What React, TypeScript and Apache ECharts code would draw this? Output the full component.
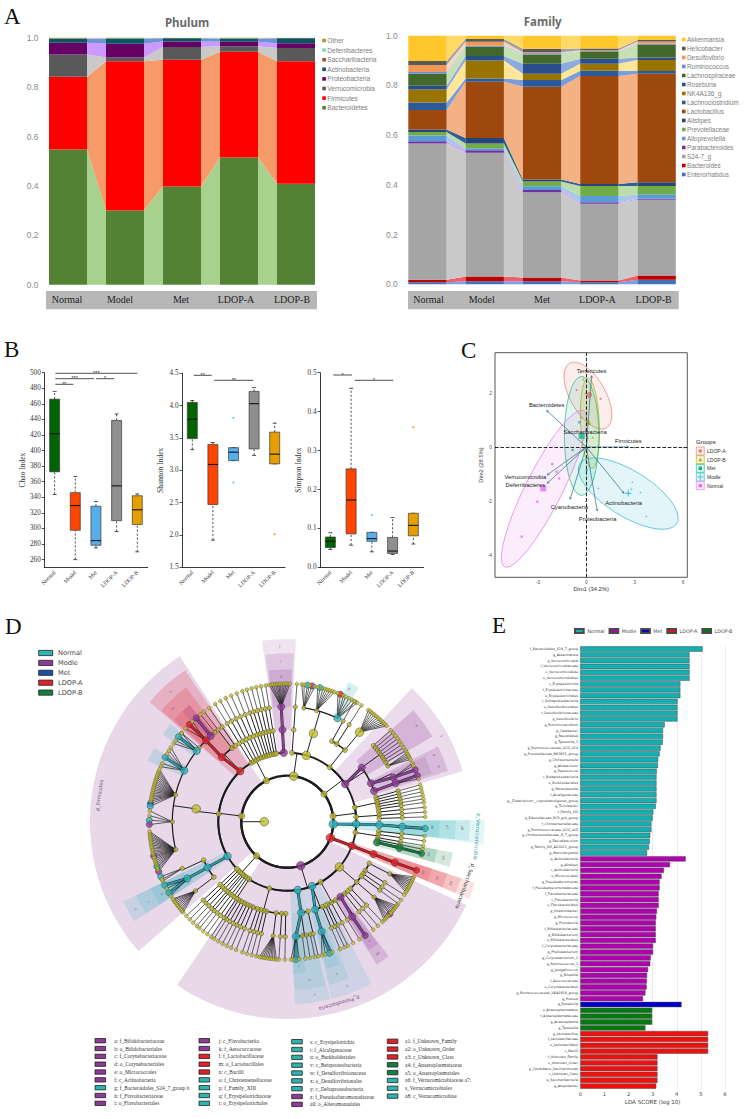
import React, { useEffect, useRef } from "react";
import * as echarts from "echarts";

// ---------- Panel A ----------
const groupNames = ["Normal", "Model", "Met", "LDOP-A", "LDOP-B"];
const phylumNames = ["Bacteroidetes", "Firmicutes", "Verrucomicrobia", "Proteobacteria", "Actinobacteria", "Saccharibacteria", "Deferribacteres", "Other"];
const phylumColors = ["#548235", "#ff0000", "#595959", "#660066", "#0b5563", "#a5502d", "#7fdcb0", "#a89a1e"];
const phylumLinks = ["#a9d18e", "#f79a69", "#c9c9c9", "#cc99ff", "#6f93d6", "#d99a80", "#bfeed8", "#e4dc90"];
const phylumTable = [
  [0.547, 0.295, 0.09, 0.048, 0.016, 0.002, 0.001, 0.001],
  [0.3, 0.605, 0.015, 0.056, 0.021, 0.001, 0.001, 0.001],
  [0.398, 0.513, 0.051, 0.023, 0.013, 0.001, 0.001, 0.0],
  [0.515, 0.428, 0.022, 0.019, 0.013, 0.001, 0.001, 0.001],
  [0.409, 0.496, 0.053, 0.02, 0.02, 0.001, 0.001, 0.0],
];
const familyNames = ["Enterorhabdus", "Bacteroides", "S24-7_g", "Parabacteroides", "Alloprevotella", "Prevotellaceae", "Alistipes", "Lactobacillus", "Lachnoclostridium", "NK4A136_g", "Roseburia", "Lachnospiraceae", "Ruminococcus", "Desulfovibrio", "Helicobacter", "Akkermansia"];
const familyColors = ["#3f73b8", "#c00000", "#a5a5a5", "#7030a0", "#5b9bd5", "#70ad47", "#264478", "#9e480e", "#2a5a9a", "#997300", "#264f8c", "#43682b", "#698ed0", "#f1975a", "#595959", "#ffc72c"];
const familyLinks = ["#7f9fe0", "#ee5f6a", "#c9c9c9", "#cfa6f2", "#a8c8ea", "#bcdcaa", "#2e5f95", "#f4b183", "#7c9ed8", "#ffe699", "#8faadc", "#c5e0b4", "#b4c7e7", "#f8d5bd", "#a0a0a0", "#ffd966"];
const familyTops = [
  [0.008, 0.018, 0.566, 0.575, 0.599, 0.613, 0.623, 0.701, 0.731, 0.784, 0.799, 0.847, 0.854, 0.882, 0.898, 1],
  [0.012, 0.031, 0.529, 0.539, 0.547, 0.566, 0.588, 0.815, 0.828, 0.9, 0.918, 0.956, 0.96, 0.976, 0.987, 1],
  [0.012, 0.027, 0.37, 0.379, 0.394, 0.414, 0.422, 0.795, 0.822, 0.847, 0.887, 0.924, 0.929, 0.933, 0.948, 1],
  [0.008, 0.015, 0.324, 0.33, 0.355, 0.395, 0.403, 0.838, 0.859, 0.887, 0.907, 0.936, 0.938, 0.941, 0.949, 1],
  [0.018, 0.035, 0.34, 0.344, 0.362, 0.395, 0.411, 0.847, 0.858, 0.902, 0.912, 0.965, 0.969, 0.977, 0.983, 1],
];

// ---------- Panel B ----------
const boxColors = ["#006400", "#ff4500", "#56aeea", "#8f8f8f", "#e69f00"];
const chaoBoxes = [[0, 343.6, 372.7, 421.6, 466, 476], [1, 260, 297.7, 329.4, 346, 366.7], [2, 275, 278.4, 284.4, 328.5, 334.5], [3, 296, 310, 354.7, 438.7, 447], [4, 270, 305, 324, 342, 344.4]];
const shannonBoxes = [[0, 3.32, 3.49, 3.79, 4.05, 4.08], [1, 1.92, 2.47, 3.09, 3.4, 3.43], [2, 3.15, 3.15, 3.28, 3.35, 3.35], [3, 3.23, 3.33, 4.03, 4.22, 4.28], [4, 3.1, 3.1, 3.25, 3.59, 3.73]];
const simpsonBoxes = [[0, 0.046, 0.051, 0.067, 0.078, 0.089], [1, 0.057, 0.086, 0.173, 0.253, 0.46], [2, 0.04, 0.067, 0.074, 0.09, 0.09], [3, 0.033, 0.036, 0.042, 0.077, 0.128], [4, 0.06, 0.081, 0.108, 0.139, 0.139]];
const shannonOutliers = [[2, 3.81], [2, 2.81], [4, 2.01]];
const simpsonOutliers = [[2, 0.135], [4, 0.36]];
const sigLines = [
  [55.3, 137.3, 373.3, "***"], [55.3, 94, 378.7, "***"], [96, 114.3, 378.7, "*"], [55.3, 73.3, 384.3, "**"],
  [193.7, 211.7, 375.3, "**"], [214.3, 253.3, 380.3, "**"],
  [333.3, 352, 375, "*"], [354.7, 393.3, 380.3, "*"],
];

// ---------- Panel C ----------
const pcaGroups = ["LDOP-A", "LDOP-B", "Met", "Modle", "Normal"];
const pcaColors = ["#e8776d", "#b5a800", "#12b884", "#2ab4cf", "#e272ea"];
const pcaEllipses = [
  [0.1, 1.894, 1.136, -1.193, 0.95, 0.32],
  [0.227, 0.873, -0.12, 1.66, 0.58, 0],
  [-0.29, 0.406, 0, 2.19, 1.07, 0],
  [2.6, -1.72, 3.0, -1.107, -0.744, -0.713],
  [-2.62, -1.54, 2.44, 2.88, 1.01, -0.31],
];
const pcaPoints = [
  [[-0.6, 2.1], [0.89, 1.78]],
  [[-0.19, 2.5], [0.39, 0.36], [-0.29, 1.09]],
  [[-0.85, -0.11], [-0.43, 0.91], [0.02, -0.85]],
  [[2.85, -1.3], [2.79, -1.56], [3.35, -1.69], [3.72, -2.56], [0.74, -1.53]],
  [[-2.11, -0.63], [-1.84, -0.91], [-1.69, -1.16], [-3.04, -2.02], [-4.01, -3.31]],
];
const pcaCentroids = [[0.17, 1.92], [0.12, 0.93], [-0.29, 0.41], [2.6, -1.71], [-2.67, -1.53]];
const loadingNames = ["Tenericutes", "Bacteroidetes", "Saccharibacteria", "Firmicutes", "Verrucomicrobia", "Deferribacteres", "Cyanobacteria", "Proteobacteria", "Actinobacteria"];
const loadings = [
  [0.33, 2.63, 0.33, 2.82], [-2.46, 1.35, -2.46, 1.54], [0.06, 0.38, -0.08, 0.54], [2.62, 0, 2.6, 0.21],
  [-2.42, -1.03, -3.78, -1.11], [-2.42, -1.34, -3.78, -1.41], [-1.01, -1.93, -1.05, -2.2], [0.68, -2.36, 0.7, -2.64], [2.33, -1.71, 2.31, -2.05],
];

// ---------- Panel D ----------
const cladeColors = ["#c2bd2c", "#2bb4bd", "#8e3a96", "#1f4fa0", "#e0202a", "#118040"];
const cladeBands = ["#222222", "#2a9aa5", "#8a3f98", "#1f4fa0", "#d01c28", "#0f7a3c"];
const shadeColors = ["#c2bd2c", "#2bb4bd", "#8e3a96", "#1f4fa0", "#e0202a", "#118040"];
// node = angle | [angle, children, group, big]
const phylumTree: any[] = [
  [277, [
    [317, [
      [314.6, [
        [315, [[314.8, null, 4], 312.5, 316.5], 4],
        [318.3, [[318.7, null, 2]], 2],
        310, 321,
      ], 4],
      323, 325.5,
    ], 4, 1],
    [276.5, [
      [278, [
        [308, [[308, null, 1], 304.5, 306, 310], 1],
        [296.4, [[297.8, null, 1], 293.5, 295, 299.5, 301, 302.5], 1],
        [283.5, [[277.6, null, 3], [276.4, null, 1], 278.6, 279.4, 280.2, 281, 281.8, 282.6, 283.4, 284.2, 285, 285.8, 286.6, 287.4, 288.2, 289, 289.8, 290.6, 291.4, 292.2]],
        [270, [[270.6, null, 1], [268.8, null, 2], 272.5, 274.5]],
        [256, [[255.6, null, 2], [251, null, 1], [248.8, null, 2], 249.6, 250.4, 251.8, 252.6, 253.4, 254.2, 255, 256.4, 257.2, 258, 258.8, 259.6, 260.4, 261.2, 262, 262.8, 263.6, 264.4, 265.2, 266]],
      ], 0, 1],
    ]],
    [240, [
      [233, [[233, [229, 229.8, 230.6, 231.4, 232.2, 233, 233.8, 234.6, 235.4, 236]]]],
      [240.2, [[240.4, [[242.6, null, 1], [239, null, 1], 241, 237.5], 1]], 1],
      [245.3, [[246, [[246.5, null, 1], 244.5, 245.3]]]],
    ], 1],
  ]],
  [333, [328.5, 331, 333.5, 336, 338.5, 341, 343, 345, 347, 349, 351]],
  [8, [
    [357, [[357, [[357, [352.5, 353.3, 354.1, 355, 355.8, 356.5, 357.2, 358, 358.8, 359.5, 360.3, 361.1], 2]], 2]], 2],
    4,
    [16, [[16.5, [
      [8.3, [[8.4, null, 1], [10.4, null, 2], 6, 7, 9.3, 11.5]],
      [14.8, [[13.7, null, 1], 12.7, 15, 16, 17, 18, 19, 20]],
      [25.8, [[22.6, null, 4], 21.5, 24, 25, 26.5, 28, 29.5, 30.5], 1],
    ], 0, 1]], 0, 1],
  ], 0, 1],
  [53, [
    [38, [29, 32.5, [38.9, [[38.9, [36, 37, 38, 39, 40, 41, 42, 43, 44, 45, 46], 0, 1]]]]],
    [57, [
      [54, [48.5, 50, 51.5, 53, 54.5, 56, 57.5, 59, [61, [60, 60.8, 61.6, 62.4, 63.2]]], 2],
      [65.3, [[67.4, [[67.9, null, 2], 65, 66], 2]], 2],
      [70.5, [[70.4, [[70.4, null, 2], 72], 2]], 2],
    ], 2],
  ]],
  [83, [[78, [74.5, 76, 77.5, 79, 80.5, 82]], [86, [84, 86, 88]]]],
  [93, [
    [92, [[92, [[92.5, [[92.8, null, 1]], 1]], 1]], 1],
    [99, [96, 98, 100, 101.5, [103, [[103.1, [[103.3, null, 5]], 5]], 5]]],
  ], 1],
  [110.5, [[110.5, [[110.6, [[110.8, [[110.6, null, 4]], 4]], 4]], 4]], 4],
  [163, [
    [131, [
      [117, [[117, [113.5, 114.3, 115.1, 115.9, 116.7, 117.5, 118.3, 119.1, 119.9, 120.7]]]],
      122, 124.5, 126.5,
      [131, [[131, [[132, null, 2], 127.5, 128.3, 129.1, 129.9, 130.7, 131.4, 133, 133.8, 134.6, 135.4]]]],
      136.5,
    ], 0, 1],
    [151, [139, 141.5, [144.7, [[145.6, [[145.6, null, 2]], 2]], 2], 148.5, 151.5, 154]],
    [159, [155.5, 157.5, [162.4, [[162.6, [[162.2, null, 1], 161, 164, 165.5], 1]], 1]], 1],
    [171.3, [[171.4, [[175.7, [[176.4, null, 1], 175, 177.5, 178.5], 1], 168.5, 170.5, 172.5], 1], 167], 1],
    [195, [181, 183.5, [187, [[187, [184.5, 185.3, 186.1, 186.9, 187.7, 188.5, 189.3, 190.1, 190.9, 191.7]]]], 193, 195, 197, 199, 201.8, 204, 206, 208, 210, 212]],
  ], 2],
  [222, [213.5, 215.5, 217.5, 219.5, 221, 223, 225, 227]],
];
// from, to, inner ring, outer ring, colour, opacity
const cladeShades = [
  [229, 327, 2, 8.58, 2, 0.2], [115, 214, 2, 8.58, 2, 0.2],
  [43, 74, 3, 7.94, 2, 0.18], [48.5, 59.6, 4, 7.32, 2, 0.24], [63.5, 72.5, 4, 7.32, 2, 0.2], [64.5, 71.5, 5, 6.62, 2, 0.15],
  [352, 362.7, 3, 7.94, 2, 0.14], [352.5, 362.2, 4, 7.32, 2, 0.16], [353, 361.7, 5, 6.62, 2, 0.2],
  [311, 326, 3, 7.94, 4, 0.2], [311.5, 323, 4, 7.32, 4, 0.2], [312, 320, 5, 6.62, 4, 0.18], [316.5, 320, 5, 6.62, 2, 0.18],
  [305, 310, 5, 6.62, 1, 0.2], [293.5, 299, 5, 6.62, 1, 0.2],
  [237, 244, 3, 7.94, 1, 0.17], [237, 244, 4, 7.32, 1, 0.15], [237, 244, 5, 6.62, 1, 0.15],
  [166.4, 177.6, 3, 7.94, 1, 0.16], [167, 177.6, 4, 7.32, 1, 0.13], [173, 178, 5, 6.62, 1, 0.13],
  [152.5, 166, 3, 7.94, 1, 0.14], [158.5, 165.5, 4, 7.32, 1, 0.13], [160, 165, 5, 6.62, 1, 0.14],
  [143, 148, 4, 7.32, 2, 0.22], [143.5, 147.5, 5, 6.62, 2, 0.18],
  [89.5, 96.5, 2, 8.58, 1, 0.12], [89.5, 96, 3, 7.94, 1, 0.16], [89.5, 96, 4, 7.32, 1, 0.16], [89.5, 96, 5, 6.62, 1, 0.16],
  [108, 113, 2, 8.58, 4, 0.13], [108, 113, 3, 7.94, 4, 0.16], [108, 113, 4, 7.32, 4, 0.16], [108, 113, 5, 6.62, 4, 0.16],
  [100.5, 105.5, 4, 7.32, 5, 0.18], [100.5, 105.5, 5, 6.62, 5, 0.18],
  [23.5, 28, 5, 6.62, 1, 0.2],
];
const cladeLabelAngles = [278, 164, 94.5, 110, 357.5, 357.5, 357.5, 25, 318, 314.6, 312, 53.5, 61, 70, 65.5, 171, 172, 175.5, 240, 240, 240, 160, 162, 145.5, 145.5, 92, 92, 92, 110.6, 110.6, 110.6, 103, 103];
const cladeLabelRings = [8.26, 8.22, 8.29, 8.23, 7.63, 6.97, 6.3, 6.38, 7.6, 7.0, 6.3, 7.0, 7.65, 7.0, 7.0, 7.61, 6.96, 6.3, 7.61, 6.96, 6.3, 7.6, 6.96, 6.95, 6.3, 7.6, 6.96, 6.3, 7.6, 6.96, 6.3, 6.96, 6.3];
const cladeLabelTexts = ["p_Firmicutes", "p_Proteobacteria", "p_Verrucomicrobia", "p_Saccharibacteria", "j", "i", "h", "g", "n", "m", "l", "e", "f", "b", "a", "v", "u", "t", "s", "r", "q", "y", "x", "a0", "z", "a8", "a7", "a6", "a3", "a2", "a1", "a5", "a4"];
const cladeLabelColors = ["#7b4f86", "#7b4f86", "#1f9aa2", "#333333"];
const cladeLegendNames = ["Normal", "Modle", "Met", "LDOP-A", "LDOP-B"];
const cladeLegendColors = ["#2bb4b0", "#8e3a96", "#1f4fa0", "#e0202a", "#118040"];
const keyColumns = [
  ["a: f_Bifidobacteriaceae", "b: o_Bifidobacteriales", "c: f_Corynebacteriaceae", "d: o_Corynebacteriales", "e: o_Micrococcales", "f: c_Actinobacteria", "g: f_Bacteroidales_S24_7_group b", "h: f_Flavobacteriaceae", "i: o_Flavobacteriales"],
  ["j: c_Flavobacteriia", "k: f_Aerococcaceae", "l: f_Lactobacillaceae", "m: o_Lactobacillales", "n: c_Bacilli", "o: f_Christensenellaceae", "p: f_Family_XIII", "q: f_Erysipelotrichaceae", "r: o_Erysipelotrichales"],
  ["s: c_Erysipelotrichia", "t: f_Alcaligenaceae", "u: o_Burkholderiales", "v: c_Betaproteobacteria", "w: f_Desulfovibrionaceae", "x: o_Desulfovibrionales", "y: c_Deltaproteobacteria", "z: f_Pseudoalteromonadaceae", "a0: o_Alteromonadales"],
  ["a1: f_Unknown_Family", "a2: o_Unknown_Order", "a3: c_Unknown_Class", "a4: f_Anaeroplasmataceae", "a5: o_Anaeroplasmatales", "a6: f_Verrucomicrobiaceae a7:", "s_Verrucomicrobiales", "a8: c_Verrucomicrobiae"],
];
const keyColumnGroups = [
  [1, 1, 1, 1, 1, 1, 0, 1, 1],
  [1, 1, 3, 3, 3, 0, 0, 0, 0],
  [0, 0, 0, 0, 0, 0, 0, 1, 1],
  [3, 3, 3, 4, 4, 0, 0, 0],
];

// ---------- Panel E ----------
const ldaGroupNames = ["Normal", "Modle", "Met", "LDOP-A", "LDOP-B"];
const ldaGroupColors = ["#12b0b2", "#b000b0", "#0000c8", "#f01010", "#007a10"];
const ldaLabels = [
  "f_Bacteroidales_S24_7_group", "g_Akkermansia", "p_Verrucomicrobia", "f_Verrucomicrobiaceae", "c_Verrucomicrobiae", "o_Verrucomicrobiales", "c_Erysipelotrichia", "f_Erysipelotrichaceae", "o_Erysipelotrichales", "c_Deltaproteobacteria", "o_Desulfovibrionales", "f_Desulfovibrionaceae", "g_Desulfovibrio", "g_Ruminiclostridium", "g_Catabacter", "g_Faecalitalea", "g_Tyzzerella_3", "g_Ruminococcaceae_UCG_014", "g_Prevotellaceae_NK3B31_group", "g_Christensenella", "g_Allobaculum", "g_Peptococcus", "c_Betaproteobacteria", "o_Burkholderiales", "g_Parasutterella", "f_Alcaligenaceae", "g__Eubacterium__coprostanoligenes_group", "g_Turicibacter", "f_Family_XIII", "g_Rikenellaceae_RC9_gut_group", "f_Christensenellaceae", "g_Ruminococcaceae_UCG_005", "g_Christensenellaceae_R_7_group", "g_Faecalibaculum", "g_Family_XIII_AD3011_group", "g_Marvinbryantia",
  "p_Actinobacteria", "g_Alistipes", "c_Actinobacteria", "o_Micrococcales", "g_Pseudoalteromonas", "f_Pseudoalteromonadaceae", "f_Flavobacteriaceae", "c_Flavobacteriia", "o_Flavobacteriales", "g_Intestinibacter", "g_Micrococcus", "g_Providencia", "f_Bifidobacteriaceae", "g_Bifidobacterium", "o_Bifidobacteriales", "f_Corynebacteriaceae", "g_Phyllobacterium", "g_Corynebacterium_1", "g_Ruminococcus_1", "g_Jeotgalicoccus", "g_Bilophila", "f_Aerococcaceae", "o_Corynebacteriales", "g_Ruminococcaceae_UBA1819_group", "g_Proteus",
  "g_Roseburia",
  "o_Anaeroplasmatales", "f_Anaeroplasmataceae", "g_Anaeroplasma", "g_Tyzzerella",
  "g_Lactobacillus", "f_Lactobacillaceae", "o_Lactobacillales", "c_Bacilli", "f_Unknown_Family", "o_Unknown_Order", "g_Candidatus_Saccharimonas", "c_Unknown_Class", "p_Saccharibacteria", "g_Atopobacter",
];
const ldaScores = [
  5.07, 4.53, 4.53, 4.53, 4.53, 4.53, 4.15, 4.15, 4.15, 4.03, 4.03, 4.03, 4.03, 3.5, 3.43, 3.43, 3.42, 3.33, 3.29, 3.23, 3.22, 3.17, 3.16, 3.16, 3.16, 3.16, 3.16, 3.13, 3.03, 3.0, 2.95, 2.95, 2.9, 2.88, 2.85, 2.77,
  4.37, 3.72, 3.47, 3.37, 3.29, 3.29, 3.25, 3.25, 3.25, 3.18, 3.15, 3.13, 3.13, 3.13, 3.13, 3.02, 3.02, 2.92, 2.9, 2.81, 2.77, 2.76, 2.75, 2.7, 2.6,
  4.2,
  2.98, 2.98, 2.98, 2.7,
  5.3, 5.3, 5.3, 5.3, 3.2, 3.2, 3.2, 3.2, 3.2, 3.15,
];
const ldaOwner = [[0, 36], [1, 25], [2, 1], [4, 4], [3, 10]];

// ---------- helpers ----------
const SERIF = "Liberation Serif";
const SANS = "Liberation Sans";

function stackedPanel(names: string[], colors: string[], links: string[], table: number[][], axis: number, barW: number, stack: string) {
  const out: any[] = [];
  names.forEach((name, s) => {
    const cum = table.map((row) => row.slice(0, s).reduce((a, b) => a + b, 0));
    const rows = [0, 1, 2, 3].map((i) => [i, cum[i], cum[i] + table[i][s], cum[i + 1], cum[i + 1] + table[i + 1][s]]);
    out.push({
      type: "custom", name: name + " link", xAxisIndex: axis, yAxisIndex: axis, silent: true, z: 1, data: rows,
      encode: { x: 0, y: [1, 2, 3, 4] },
      renderItem: (_: any, api: any) => {
        const i = api.value(0);
        const a = api.coord([i, api.value(1)]), b = api.coord([i, api.value(2)]);
        const c = api.coord([i + 1, api.value(3)]), d = api.coord([i + 1, api.value(4)]);
        const w = barW / 2;
        return { type: "polygon", shape: { points: [[a[0] + w, a[1]], [b[0] + w, b[1]], [d[0] - w, d[1]], [c[0] - w, c[1]]] }, style: { fill: links[s] } };
      },
    });
    out.push({
      type: "bar", name, stack, xAxisIndex: axis, yAxisIndex: axis, barWidth: barW, z: 2, silent: true,
      itemStyle: { color: colors[s] }, data: table.map((row) => row[s]),
    });
  });
  return out;
}

function boxSeries(name: string, rows: number[][], axis: number) {
  return {
    type: "custom", name, xAxisIndex: axis, yAxisIndex: axis, silent: true, z: 3, data: rows,
    encode: { x: 0, y: [1, 2, 3, 4, 5] },
    renderItem: (_: any, api: any) => {
      const i = api.value(0);
      const p = (k: number) => api.coord([i, api.value(k)]);
      const x = p(1)[0], y0 = p(1)[1], y1 = p(2)[1], y2 = p(3)[1], y3 = p(4)[1], y4 = p(5)[1];
      const ink = "#2a2a2a";
      const dash = { stroke: ink, lineWidth: 0.8, lineDash: [2.2, 1.8] };
      const cap = { stroke: ink, lineWidth: 0.8 };
      return {
        type: "group",
        children: [
          { type: "line", shape: { x1: x, y1: y0, x2: x, y2: y1 }, style: dash },
          { type: "line", shape: { x1: x, y1: y3, x2: x, y2: y4 }, style: dash },
          { type: "line", shape: { x1: x - 2, y1: y0, x2: x + 2, y2: y0 }, style: cap },
          { type: "line", shape: { x1: x - 2, y1: y4, x2: x + 2, y2: y4 }, style: cap },
          { type: "rect", shape: { x: x - 5, y: y3, width: 10, height: y1 - y3 }, style: { fill: boxColors[i], stroke: "#3a3a3a", lineWidth: 0.7 } },
          { type: "line", shape: { x1: x - 5, y1: y2, x2: x + 5, y2: y2 }, style: { stroke: "#111", lineWidth: 1.1 } },
        ],
      };
    },
  };
}

function boxAxes(name: string, min: number, max: number, interval: number, fixed: number, axis: number, custom?: number[]) {
  const x = {
    type: "category", gridIndex: axis, data: groupNames, boundaryGap: true,
    axisLine: { lineStyle: { color: "#222", width: 0.9 } }, axisTick: { alignWithLabel: true, length: 2.5, lineStyle: { color: "#222", width: 0.8 } },
    axisLabel: { rotate: 45, fontSize: 5.8, fontFamily: SERIF, color: "#333", margin: 4, interval: 0 },
  };
  const y: any = {
    type: "value", gridIndex: axis, min, max, name, nameLocation: "middle",
    nameGap: 18, nameTextStyle: { fontFamily: SERIF, fontSize: 7.5, color: "#333" },
    axisLine: { show: true, lineStyle: { color: "#222", width: 0.9 } }, splitLine: { show: false },
    axisTick: { show: true, length: 2.5, lineStyle: { color: "#222", width: 0.8 } },
    axisLabel: { fontSize: 7.2, fontFamily: SERIF, color: "#333", margin: 3.5, formatter: (v: number) => (fixed ? v.toFixed(fixed) : String(v)) },
  };
  if (custom) {
    y.axisTick.customValues = custom;
    y.axisLabel.customValues = custom;
  } else y.interval = interval;
  return { x, y };
}

// ---------- flatten the cladogram ----------
const edgeRows: number[][] = [];
const arcRows: number[][] = [];
const nodeRows: any[] = [];
const plainSize: any = { 1: 9, 2: 6.2, 3: 5, 4: 4.7, 5: 4.3, 6: 3.8 };
const hotSize: any = { 2: 8.5, 3: 7.5, 4: 7.2, 5: 7.2, 6: 6.2 };
const norm = (t: number) => ((t % 360) + 360) % 360;
function addNode(raw: any, level: number) {
  const isNum = typeof raw === "number";
  const angle: number = isNum ? raw : raw[0];
  let kids: any[] | null = isNum ? null : raw[1];
  const group: number = isNum ? 0 : raw[2] || 0;
  const big = !isNum && raw[3];
  if (!kids && level < 6) kids = [angle];
  const size = group ? hotSize[level] : big ? 8.5 : plainSize[level];
  nodeRows.push({
    value: [level, norm(angle)], symbolSize: size,
    itemStyle: { color: cladeColors[group], borderColor: "#333", borderWidth: level === 6 && !group ? 0.4 : 0.6 },
  });
  if (!kids) return;
  const kidAngles = kids.map((k) => (typeof k === "number" ? k : k[0]));
  const isHot = (k: any, i: number) => group && typeof k !== "number" && k[2] === group && Math.abs(kidAngles[i] - angle) < 6;
  if (level === 5) {
    kids.forEach((k, i) => {
      const hot = isHot(k, i);
      edgeRows.push([level, norm(angle), level + 1, norm(kidAngles[i]), hot ? 2.1 : 0.7, hot ? group : 0]);
    });
  } else {
    const lo = Math.min(...kidAngles), hi = Math.max(...kidAngles);
    if (hi > lo) arcRows.push([level + 1, lo, hi, 2.5 - level * 0.32]);
    edgeRows.push([level, norm(angle), level + 1, norm(angle), 1, 0]);
    kids.forEach((k, i) => {
      if (isHot(k, i)) edgeRows.push([level, norm(angle), level + 1, norm(kidAngles[i]), 2.1, group]);
    });
  }
  kids.forEach((k) => addNode(k, level + 1));
}
addNode([270, phylumTree, 0, 1], 1);
arcRows.push([2, 0, 360, 2.3]);

export default function App() {
  const ref = useRef<HTMLDivElement | null>(null);
  useEffect(() => {
    if (!ref.current) return;
    const chart = echarts.init(ref.current, undefined, { renderer: "svg" });

    const bandLabels = (offsets: number[]) =>
      groupNames.map((g, i) => ({ value: g, textStyle: { padding: [0, offsets[i] * 2, 0, 0] } }));
    const stackAxes = (axis: number, offsets: number[]) => ({
      x: {
        type: "category", gridIndex: axis, data: bandLabels(offsets),
        axisLine: { show: false }, axisTick: { show: false },
        axisLabel: { margin: 10, fontSize: 10, fontFamily: SERIF, color: "#222", interval: 0, hideOverlap: false },
      },
      y: {
        type: "value", gridIndex: axis, min: 0, max: 1, interval: 0.2,
        axisLine: { show: false }, axisTick: { show: false }, splitLine: { show: false },
        axisLabel: { fontSize: 8.5, fontFamily: SANS, color: "#8a8a8a", margin: 1, formatter: (v: number) => v.toFixed(1) },
      },
    });
    const a0 = stackAxes(0, [1, 5, 1, 3, 4]);
    const a1 = stackAxes(1, [-1, 3, 0, 2, 3]);
    const chaoAxes = boxAxes("Chao Index", 250, 500, 20, 0, 2, [260, 280, 300, 320, 340, 360, 380, 400, 420, 440, 460, 480, 500]);
    const shanAxes = boxAxes("Shannon Index", 1.5, 4.5, 0.5, 1, 3);
    const simpAxes = boxAxes("Simpson Index", 0, 0.5, 0.1, 1, 4);

    const pcaX = {
      type: "value", gridIndex: 5, min: -5.66, max: 6.26, name: "Dim1 (34.2%)", nameLocation: "middle", nameGap: 8,
      nameTextStyle: { fontSize: 5.8, fontFamily: SANS, color: "#333" },
      axisLine: { show: false }, splitLine: { show: false },
      axisTick: { show: true, length: 1.5, customValues: [-3, 0, 3, 6], lineStyle: { color: "#333", width: 0.6 } },
      axisLabel: { fontSize: 5, fontFamily: SANS, color: "#555", margin: 2.5, customValues: [-3, 0, 3, 6] },
    };
    const pcaY = {
      type: "value", gridIndex: 5, min: -4.81, max: 3.48, name: "Dim2 (28.5%)", nameLocation: "middle", nameGap: 9,
      nameTextStyle: { fontSize: 5.8, fontFamily: SANS, color: "#333" },
      axisLine: { show: false }, splitLine: { show: false },
      axisTick: { show: true, length: 1.5, customValues: [-4, -2, 0, 2], lineStyle: { color: "#333", width: 0.6 } },
      axisLabel: { fontSize: 5, fontFamily: SANS, color: "#555", margin: 3, customValues: [-4, -2, 0, 2] },
    };

    // panel C series
    const ellipseSeries = {
      type: "custom", name: "pca ellipses", xAxisIndex: 5, yAxisIndex: 5, silent: true, z: 2, data: pcaEllipses,
      encode: { x: [0], y: [1] },
      renderItem: (params: any, api: any) => {
        const v = [0, 1, 2, 3, 4, 5].map((k) => api.value(k));
        const pts: number[][] = [];
        for (let k = 0; k < 72; k++) {
          const t = (k / 72) * Math.PI * 2;
          pts.push(api.coord([v[0] + v[2] * Math.cos(t) + v[4] * Math.sin(t), v[1] + v[3] * Math.cos(t) + v[5] * Math.sin(t)]));
        }
        const c = pcaColors[params.dataIndex];
        return { type: "polygon", shape: { points: pts }, style: { fill: c, fillOpacity: 0.13, stroke: c, lineWidth: 0.7 } };
      },
    };
    const symbols = ["circle", "triangle", "rect", "path://M4 0H6V4H10V6H6V10H4V6H0V4H4Z", "rect"];
    const pcaSeries: any[] = pcaGroups.flatMap((g, i) => [
      { type: "scatter", name: "pca " + g, xAxisIndex: 5, yAxisIndex: 5, silent: true, z: 3, symbol: symbols[i], symbolSize: 2.3, itemStyle: { color: pcaColors[i] }, data: pcaPoints[i] },
      { type: "scatter", name: "pca centre " + g, xAxisIndex: 5, yAxisIndex: 5, silent: true, z: 3, symbol: symbols[i], symbolSize: 6, itemStyle: { color: pcaColors[i] }, data: [pcaCentroids[i]] },
    ]);
    const loadSeries = {
      type: "custom", name: "pca loadings", xAxisIndex: 5, yAxisIndex: 5, silent: true, z: 4, data: loadings,
      encode: { x: [0, 2], y: [1, 3] },
      renderItem: (params: any, api: any) => {
        const o = api.coord([0, 0]);
        const tip = api.coord([api.value(0), api.value(1)]);
        const lab = api.coord([api.value(2), api.value(3)]);
        const ang = Math.atan2(tip[1] - o[1], tip[0] - o[0]);
        const L = 2.4;
        const head = [
          [tip[0] - L * Math.cos(ang - 0.5), tip[1] - L * Math.sin(ang - 0.5)], tip,
          [tip[0] - L * Math.cos(ang + 0.5), tip[1] - L * Math.sin(ang + 0.5)],
        ];
        return {
          type: "group",
          children: [
            { type: "line", shape: { x1: o[0], y1: o[1], x2: tip[0], y2: tip[1] }, style: { stroke: "#2a6a8a", lineWidth: 0.7 } },
            { type: "polyline", shape: { points: head }, style: { stroke: "#2a6a8a", fill: "none", lineWidth: 0.6 } },
            { type: "text", x: lab[0], y: lab[1], style: { text: loadingNames[params.dataIndex], fontSize: 5.8, fontFamily: SANS, fill: "#222", align: "center", verticalAlign: "middle" } },
          ],
        };
      },
    };
    const refLines = {
      type: "scatter", name: "pca origin", xAxisIndex: 5, yAxisIndex: 5, silent: true, z: 3, symbolSize: 0, data: [],
      markLine: {
        silent: true, symbol: "none", label: { show: false }, animation: false,
        lineStyle: { color: "#111", type: "dashed", width: 0.9 }, data: [{ xAxis: 0 }, { yAxis: 0 }],
      },
    };

    // panel D series
    const shadeSeries = {
      type: "custom", name: "clade shades", coordinateSystem: "polar", polarIndex: 0, silent: true, z: 1, data: cladeShades,
      encode: { radius: 2, angle: 0 },
      renderItem: (params: any, api: any) => {
        const row = cladeShades[params.dataIndex];
        const c = params.coordSys;
        const unit = (L: number) => {
          const p = api.coord([L, 0]);
          return c.cy - p[1];
        };
        const rad = (d: number) => ((d - 90) * Math.PI) / 180;
        return {
          type: "sector",
          shape: { cx: c.cx, cy: c.cy, r0: unit(row[2]), r: unit(row[3]), startAngle: rad(row[0]), endAngle: rad(row[1]), clockwise: true },
          style: { fill: shadeColors[row[4]], opacity: row[5] },
        };
      },
    };
    const arcSeries = {
      type: "custom", name: "clade arcs", coordinateSystem: "polar", polarIndex: 0, silent: true, z: 2, data: arcRows,
      encode: { radius: 0, angle: 1 },
      renderItem: (params: any, api: any) => {
        const row = arcRows[params.dataIndex];
        const pts: number[][] = [];
        for (let a = row[1]; a < row[2]; a += 1.5) pts.push(api.coord([row[0], norm(a)]));
        pts.push(api.coord([row[0], norm(row[2])]));
        return { type: "polyline", shape: { points: pts }, style: { stroke: "#1b1b1b", fill: "none", lineWidth: row[3] } };
      },
    };
    const edgeSeries = {
      type: "custom", name: "clade edges", coordinateSystem: "polar", polarIndex: 0, silent: true, z: 3, data: edgeRows,
      encode: { radius: 0, angle: 1 },
      renderItem: (params: any, api: any) => {
        const row = edgeRows[params.dataIndex];
        const p = api.coord([row[0], row[1]]), q = api.coord([row[2], row[3]]);
        const shape = { x1: p[0], y1: p[1], x2: q[0], y2: q[1] };
        if (row[5]) {
          return {
            type: "group",
            children: [
              { type: "line", shape, style: { stroke: "#222", lineWidth: row[4] + 0.8 } },
              { type: "line", shape, style: { stroke: cladeBands[row[5]], lineWidth: row[4] } },
            ],
          };
        }
        return { type: "line", shape, style: { stroke: "#222", lineWidth: row[4] } };
      },
    };
    const nodeSeries = {
      type: "scatter", name: "clade nodes", coordinateSystem: "polar", polarIndex: 0, silent: true, z: 4, data: nodeRows,
    };
    const labelSeries = {
      type: "custom", name: "clade labels", coordinateSystem: "polar", polarIndex: 0, silent: true, z: 5,
      data: cladeLabelAngles.map((a, i) => [cladeLabelRings[i], norm(a)]),
      encode: { radius: 0, angle: 1 },
      renderItem: (params: any, api: any) => {
        const i = params.dataIndex;
        const p = api.coord([api.value(0), api.value(1)]);
        const long = i < 4;
        return {
          type: "text", x: p[0], y: p[1], rotation: (-api.value(1) * Math.PI) / 180,
          style: { text: cladeLabelTexts[i], fontSize: long ? 5 : 3.6, fontFamily: "DejaVu Sans", fill: long ? cladeLabelColors[i] : "#7a6a7a", align: "center", verticalAlign: "middle" },
        };
      },
    };

    // panel E series
    let cursor = 0;
    const ldaSeries = ldaOwner.map(([g, n]) => {
      const start = cursor;
      cursor += n;
      return {
        type: "bar", name: ldaGroupNames[g], stack: "lda", xAxisIndex: 6, yAxisIndex: 6, barWidth: 5.3, silent: true, z: 2,
        itemStyle: { color: ldaGroupColors[g], borderColor: "#4a4a4a", borderWidth: 0.5 },
        data: ldaScores.map((v, i) => (i >= start && i < start + n ? v : null)),
      };
    });

    // graphic
    const g: any[] = [
      { type: "rect", z: -1, shape: { x: 46, y: 291, width: 271, height: 18.3 }, style: { fill: "#b7b7b7" } },
      { type: "rect", z: -1, shape: { x: 408, y: 291, width: 270.7, height: 18.3 }, style: { fill: "#b7b7b7" } },
    ];
    const letters: any[] = [["A", 4, 28], ["B", 4, 361], ["C", 461, 362], ["D", 5, 638], ["E", 492, 637]];
    letters.forEach(([t, x, y]) =>
      g.push({ type: "text", x, y, style: { text: t, fontFamily: SERIF, fontSize: 23, fill: "#111", verticalAlign: "bottom" } })
    );
    sigLines.forEach(([x1, x2, y, t]: any) => {
      g.push({ type: "line", shape: { x1, y1: y, x2, y2: y }, style: { stroke: "#222", lineWidth: 0.8 } });
      g.push({ type: "text", x: (x1 + x2) / 2, y: y - 0.4, style: { text: t, fontSize: 5.5, fontFamily: SANS, fill: "#333", align: "center", verticalAlign: "middle" } });
    });
    // panel C key
    g.push({ type: "text", x: 696, y: 441.5, style: { text: "Groups", fontSize: 6, fontFamily: SANS, fill: "#222", verticalAlign: "middle" } });
    pcaGroups.forEach((name, i) => {
      const cy = 451 + i * 8.67;
      const c = pcaColors[i];
      g.push({ type: "rect", shape: { x: 696.3, y: cy - 4, width: 8, height: 8 }, style: { fill: c, fillOpacity: 0.15, stroke: c, lineWidth: 0.6 } });
      if (i === 0) g.push({ type: "circle", shape: { cx: 700.3, cy, r: 1.7 }, style: { fill: c } });
      if (i === 1) g.push({ type: "polygon", shape: { points: [[700.3, cy - 2], [702.3, cy + 1.6], [698.3, cy + 1.6]] }, style: { fill: c } });
      if (i === 2 || i === 4) g.push({ type: "rect", shape: { x: 698.6, y: cy - 1.7, width: 3.4, height: 3.4 }, style: { fill: c } });
      if (i === 3) {
        g.push({ type: "line", shape: { x1: 697, y1: cy, x2: 703.6, y2: cy }, style: { stroke: c, lineWidth: 0.7 } });
        g.push({ type: "line", shape: { x1: 700.3, y1: cy - 3.3, x2: 700.3, y2: cy + 3.3 }, style: { stroke: c, lineWidth: 0.7 } });
      }
      g.push({ type: "text", x: 707, y: cy, style: { text: name, fontSize: 5, fontFamily: SANS, fill: "#333", verticalAlign: "middle" } });
    });
    // panel D keys
    cladeLegendNames.forEach((name, i) => {
      const cy = 653 + i * 9.9;
      g.push({ type: "rect", shape: { x: 38.7, y: cy - 2.6, width: 14, height: 5.2 }, style: { fill: cladeLegendColors[i], stroke: "#222", lineWidth: 0.8 } });
      g.push({ type: "text", x: 58, y: cy, style: { text: name, fontSize: 6.6, fontFamily: "DejaVu Sans", fill: "#444", verticalAlign: "middle" } });
    });
    const colKey = [95, 199, 291.7, 387.3];
    const colText = [114.3, 218.7, 310, 405];
    const colTop = [1040.7, 1040.7, 1041.7, 1041.3];
    keyColumns.forEach((col, c) =>
      col.forEach((text, r) => {
        const cy = colTop[c] + r * 7.83;
        g.push({ type: "rect", shape: { x: colKey[c], y: cy - 2.2, width: 10.6, height: 4.4 }, style: { fill: cladeLegendColors[keyColumnGroups[c][r]], stroke: "#222", lineWidth: 0.8 } });
        g.push({ type: "text", x: colText[c], y: cy, style: { text, fontSize: 5.4, fontFamily: SERIF, fill: "#333", verticalAlign: "middle" } });
      })
    );

    chart.setOption({
      animation: false,
      backgroundColor: "#fff",
      title: [
        { text: "Phulum", left: 187, top: 16, padding: 0, textAlign: "center", textStyle: { fontSize: 11.5, fontWeight: "bold", fontFamily: "Noto Sans", color: "#6a6a6a" } },
        { text: "Family", left: 542.7, top: 15, padding: 0, textAlign: "center", textStyle: { fontSize: 11.5, fontWeight: "bold", fontFamily: "Noto Sans", color: "#6a6a6a" } },
      ],
      legend: [
        {
          data: phylumNames.slice().reverse(), orient: "vertical", left: 322.3, top: 37, padding: 0, itemWidth: 3.6, itemHeight: 3.6, itemGap: 2.6, icon: "rect", selectedMode: false,
          textStyle: { fontSize: 6.6, fontFamily: SANS, color: "#808080", padding: [0, 0, 0, -3.6] },
        },
        {
          data: familyNames.slice().reverse(), orient: "vertical", left: 682, top: 36.5, padding: 0, itemWidth: 3.6, itemHeight: 3.6, itemGap: 3, icon: "rect", selectedMode: false,
          textStyle: { fontSize: 6.4, fontFamily: SANS, color: "#808080", padding: [0, 0, 0, -3.6] },
        },
        {
          data: ldaGroupNames, orient: "horizontal", left: 574, top: 628, padding: 0, width: 172, itemWidth: 8.7, itemHeight: 4, itemGap: 4, icon: "rect", selectedMode: false,
          textStyle: { fontSize: 4.8, fontFamily: "DejaVu Sans", color: "#444", padding: [0, 0, 0, -1.5] },
        },
      ],
      grid: [
        { left: 39.5, top: 37.7, width: 285, height: 247 },
        { left: 398.8, top: 35.7, width: 286.5, height: 248.6 },
        { left: 44.3, top: 372.7, width: 103.3, height: 194.7 },
        { left: 182, top: 373.3, width: 103, height: 194 },
        { left: 320, top: 372.7, width: 103.7, height: 194.7 },
        { left: 495, top: 352.7, width: 192.3, height: 224.6, show: true, borderColor: "#444", borderWidth: 0.9, backgroundColor: "#fff" },
        { left: 580.3, top: 646.1, width: 144.7, height: 442.9 },
      ],
      xAxis: [
        a0.x, a1.x, chaoAxes.x, shanAxes.x, simpAxes.x, pcaX,
        {
          type: "value", gridIndex: 6, min: 0, max: 6, interval: 1, name: "LDA SCORE (log 10)", nameLocation: "middle", nameGap: 10,
          nameTextStyle: { fontSize: 5.6, fontFamily: "DejaVu Sans", color: "#444" },
          axisLine: { show: false }, axisTick: { length: 1, lineStyle: { color: "#777", width: 0.5 } },
          axisLabel: { fontSize: 5.2, fontFamily: "DejaVu Sans", color: "#444", margin: 2 },
          splitLine: { show: true, lineStyle: { color: "#e2e2e2", width: 0.7 } },
        },
      ],
      yAxis: [
        a0.y, a1.y, chaoAxes.y, shanAxes.y, simpAxes.y, pcaY,
        {
          type: "category", gridIndex: 6, inverse: true, data: ldaLabels,
          axisLine: { show: false }, axisTick: { show: false },
          axisLabel: { fontSize: 3.3, fontFamily: "DejaVu Sans", color: "#333", interval: 0, margin: 2.3 },
        },
      ],
      polar: { center: [287.3, 821.7], radius: 207 },
      radiusAxis: { min: 0, max: 9, axisLine: { show: false }, axisTick: { show: false }, axisLabel: { show: false }, splitLine: { show: false } },
      angleAxis: { type: "value", min: 0, max: 360, startAngle: 90, clockwise: true, axisLine: { show: false }, axisTick: { show: false }, axisLabel: { show: false }, splitLine: { show: false } },
      graphic: { elements: g },
      series: [
        ...stackedPanel(phylumNames, phylumColors, phylumLinks, phylumTable, 0, 38, "phylum"),
        ...stackedPanel(
          familyNames, familyColors, familyLinks,
          familyTops.map((row) => row.map((v, i) => +(v - (i ? row[i - 1] : 0)).toFixed(3))),
          1, 38.3, "family"
        ),
        boxSeries("Chao", chaoBoxes, 2),
        boxSeries("Shannon", shannonBoxes, 3),
        boxSeries("Simpson", simpsonBoxes, 4),
        { type: "scatter", name: "Shannon outliers", xAxisIndex: 3, yAxisIndex: 3, silent: true, symbolSize: 2.2, z: 4, itemStyle: { color: (p: any) => boxColors[p.value[0]] }, data: shannonOutliers },
        { type: "scatter", name: "Simpson outliers", xAxisIndex: 4, yAxisIndex: 4, silent: true, symbolSize: 2.2, z: 4, itemStyle: { color: (p: any) => boxColors[p.value[0]] }, data: simpsonOutliers },
        ellipseSeries, ...pcaSeries, refLines, loadSeries,
        shadeSeries, arcSeries, edgeSeries, nodeSeries, labelSeries,
        ...ldaSeries,
      ],
    });
    return () => chart.dispose();
  }, []);
  return <div ref={ref} style={{ position: "absolute", left: 0, top: 0, width: 746, height: 1119, background: "#fff" }} />;
}
